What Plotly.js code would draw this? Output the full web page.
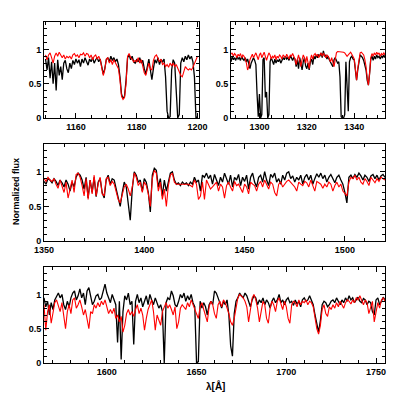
<!DOCTYPE html>
<html>
<head>
<meta charset="utf-8">
<script src="https://cdn.plot.ly/plotly-3.0.1.min.js"></script>
<style>
  html, body { margin: 0; padding: 0; background: #fff; }
  #plot { width: 407px; height: 407px; }
</style>
</head>
<body>
<div id="plot"></div>
<script>
"use strict";

// Wavelength grids: start, step (Angstrom)
var start1 = 1150, step1 = 0.5;
var start2 = 1288, step2 = 0.5;
var start3 = 1350, step3 = 1;
var start4 = 1565, step4 = 1;

// Panel 1 (1150-1200): observed (black) and model (red)
var obs1 = [
  0.86, 0.7, 0.88, 0.58, 0.82, 0.5, 0.8, 0.4, 0.85, 0.62,
  0.75, 0.56, 0.8, 0.84, 0.72, 0.66, 0.8, 0.72, 0.84, 0.78,
  0.86, 0.8, 0.85, 0.75, 0.86, 0.8, 0.88, 0.82, 0.77, 0.86,
  0.82, 0.88, 0.8, 0.85, 0.88, 0.82, 0.86, 0.75, 0.64, 0.72,
  0.85, 0.88, 0.82, 0.9, 0.84, 0.88, 0.82, 0.86, 0.78, 0.6,
  0.35, 0.28, 0.32, 0.55, 0.88, 0.92, 0.85, 0.9, 0.82, 0.8,
  0.85, 0.82, 0.88, 0.8, 0.84, 0.72, 0.64, 0.75, 0.86, 0.7,
  0.56, 0.72, 0.85, 0.8, 0.88, 0.78, 0.85, 0.82, 0.86, 0.6,
  0.1, 0, 0.02, 0.7, 0.85, 0.8, 0.3, 0, 0.05, 0.8,
  0.88, 0.82, 0.9, 0.85, 0.92, 0.86, 0.9, 0.82, 0.6, 0,
  0.02
];
var mod1 = [
  0.92, 0.85, 0.92, 0.95, 0.88, 0.8, 0.9, 0.95, 0.9, 0.96,
  0.92, 0.88, 0.92, 0.86, 0.9, 0.88, 0.9, 0.86, 0.92, 0.94,
  0.9, 0.92, 0.88, 0.93, 0.92, 0.95, 0.9, 0.94, 0.93, 0.88,
  0.92, 0.85, 0.9, 0.92, 0.86, 0.9, 0.85, 0.72, 0.62, 0.7,
  0.86, 0.88, 0.8, 0.85, 0.78, 0.85, 0.8, 0.76, 0.72, 0.55,
  0.32, 0.27, 0.3, 0.5, 0.9, 0.94, 0.88, 0.86, 0.82, 0.84,
  0.82, 0.88, 0.8, 0.85, 0.76, 0.66, 0.62, 0.72, 0.8, 0.72,
  0.7, 0.84, 0.9, 0.92, 0.88, 0.82, 0.86, 0.78, 0.8, 0.75,
  0.78, 0.74, 0.8, 0.76, 0.8, 0.75, 0.78, 0.72, 0.68, 0.62,
  0.6, 0.7, 0.75, 0.72, 0.7, 0.72, 0.7, 0.74, 0.8, 0.86,
  0.9
];

// Panel 2 (1288-1353)
var obs2 = [
  0.82, 0.9, 0.85, 0.88, 0.84, 0.9, 0.86, 0.88, 0.84, 0.9,
  0.86, 0.84, 0.88, 0.82, 0.86, 0.8, 0.72, 0.8, 0.85, 0.88,
  0.84, 0.78, 0.35, 0.02, 0.35, 0, 0.05, 0.85, 0.88, 0.3,
  0.38, 0, 0.05, 0.82, 0.88, 0.84, 0.78, 0.86, 0.8, 0.85,
  0.82, 0.86, 0.8, 0.84, 0.88, 0.85, 0.9, 0.86, 0.88, 0.84,
  0.9, 0.88, 0.84, 0.88, 0.86, 0.75, 0.85, 0.72, 0.88, 0.8,
  0.7, 0.82, 0.88, 0.76, 0.72, 0.8, 0.7, 0.82, 0.86, 0.78,
  0.9, 0.86, 0.92, 0.88, 0.92, 0.9, 0.95, 0.88, 0.98, 0.9,
  0.92, 0.86, 0.9, 0.85, 0.8, 0.78, 0.75, 0.85, 0.88, 0.85,
  0.8, 0.82, 0.6, 0.02, 0, 0, 0.05, 0.82, 0.3, 0.1,
  0.82, 0.88, 0.9, 0.86, 0.85, 0.7, 0.55, 0.7, 0.85, 0.92,
  0.9, 0.88, 0.84, 0.78, 0.7, 0.55, 0.48, 0.65, 0.86, 0.9,
  0.84, 0.9, 0.86, 0.92, 0.88, 0.9, 0.86, 0.9, 0.88, 0.92,
  0.88
];
var mod2 = [
  0.93, 0.95, 0.9, 0.94, 0.92, 0.88, 0.93, 0.9, 0.94, 0.88,
  0.92, 0.9, 0.86, 0.8, 0.7, 0.75, 0.85, 0.9, 0.93, 0.88,
  0.92, 0.95, 0.9, 0.85, 0.92, 0.95, 0.88, 0.93, 0.96, 0.9,
  0.84, 0.9, 0.95, 0.92, 0.86, 0.9, 0.88, 0.92, 0.85, 0.9,
  0.88, 0.92, 0.9, 0.86, 0.92, 0.9, 0.88, 0.93, 0.9, 0.86,
  0.92, 0.9, 0.94, 0.9, 0.86, 0.78, 0.88, 0.92, 0.84, 0.75,
  0.85, 0.92, 0.88, 0.8, 0.9, 0.82, 0.72, 0.85, 0.92, 0.86,
  0.92, 0.94, 0.9, 0.93, 0.88, 0.92, 0.95, 0.9, 0.94, 0.92,
  0.88, 0.92, 0.9, 0.86, 0.82, 0.88, 0.8, 0.75, 0.85, 0.95,
  0.97, 0.97, 0.97, 0.96, 0.97, 0.96, 0.95, 0.93, 0.9, 0.92,
  0.95, 0.96, 0.93, 0.9, 0.86, 0.72, 0.55, 0.72, 0.88, 0.95,
  0.96, 0.94, 0.92, 0.85, 0.75, 0.58, 0.48, 0.65, 0.88, 0.94,
  0.9, 0.95, 0.92, 0.96, 0.93, 0.95, 0.9, 0.94, 0.92, 0.95,
  0.92
];

// Panel 3 (1350-1520)
var obs3 = [
  0.86, 0.82, 0.9, 0.88, 0.84, 0.9, 0.86, 0.8, 0.88, 0.84,
  0.78, 0.88, 0.82, 0.72, 0.85, 0.78, 0.92, 0.98, 0.95, 0.88,
  0.75, 0.92, 0.62, 0.88, 0.7, 0.92, 0.64, 0.85, 0.9, 0.7,
  0.62, 0.88, 0.95, 0.82, 0.9, 0.88, 0.75, 0.6, 0.5, 0.7,
  0.85, 0.78, 0.55, 0.3, 0.75, 1.0, 0.95, 0.85, 0.88, 0.72,
  0.9, 0.85, 0.7, 0.42, 0.95, 1.05, 1.02, 0.78, 0.9, 0.65,
  0.88, 0.72, 0.85, 0.98, 1.0, 0.88, 0.82, 0.84, 0.8, 0.85,
  0.82, 0.84, 0.8, 0.85, 0.82, 0.92, 0.85, 0.88, 0.72, 0.95,
  0.92, 0.98, 0.9, 0.95, 0.82, 0.96, 0.88, 0.8, 0.92, 0.85,
  0.98, 0.9, 0.82, 0.95, 0.78, 0.92, 0.88, 0.96, 0.8, 0.92,
  0.86, 0.95, 0.75, 0.92, 0.98, 0.85, 0.78, 0.92, 0.95, 0.85,
  1.0, 0.88, 0.8, 0.96, 0.92, 0.98, 0.85, 0.9, 0.82, 0.95,
  0.88, 0.98, 1.0, 0.9, 0.94, 0.85, 0.92, 0.88, 0.95, 0.82,
  0.92, 0.96, 0.88, 0.95, 0.82, 0.9, 0.97, 0.92, 0.98, 0.9,
  0.95, 0.85, 0.92, 0.96, 0.9, 0.84, 0.92, 0.95, 0.88, 0.82,
  0.7, 0.55, 0.92, 0.95, 0.9, 0.96, 0.92, 0.98, 0.94, 0.88,
  0.95, 0.92, 0.86, 0.94, 0.96, 0.9, 0.95, 0.88, 0.94, 0.96,
  0.92
];
var mod3 = [
  0.9, 0.86, 0.92, 0.88, 0.86, 0.9, 0.82, 0.76, 0.88, 0.8,
  0.7, 0.85, 0.62, 0.75, 0.88, 0.7, 0.96, 0.98, 0.92, 0.8,
  0.65, 0.9, 0.6, 0.88, 0.68, 0.95, 0.65, 0.82, 0.92, 0.68,
  0.65, 0.9, 0.92, 0.8, 0.86, 0.82, 0.72, 0.6, 0.55, 0.65,
  0.78, 0.82, 0.75, 0.65, 0.78, 0.98, 0.92, 0.8, 0.85, 0.7,
  0.85, 0.8, 0.68, 0.5, 0.9, 1.02, 0.98, 0.72, 0.85, 0.6,
  0.75, 0.5, 0.8, 0.95, 0.98, 0.85, 0.82, 0.82, 0.82, 0.82,
  0.82, 0.82, 0.82, 0.8, 0.78, 0.88, 0.82, 0.6, 0.65, 0.85,
  0.6, 0.88, 0.82, 0.75, 0.78, 0.82, 0.85, 0.72, 0.82, 0.78,
  0.62, 0.8, 0.85, 0.78, 0.72, 0.86, 0.8, 0.82, 0.75, 0.7,
  0.82, 0.78, 0.68, 0.85, 0.82, 0.8, 0.72, 0.82, 0.86, 0.78,
  0.88, 0.82, 0.75, 0.85, 0.82, 0.7, 0.65, 0.82, 0.85, 0.78,
  0.82, 0.86, 0.88, 0.85, 0.82, 0.78, 0.72, 0.85, 0.82, 0.8,
  0.86, 0.84, 0.78, 0.88, 0.8, 0.72, 0.86, 0.84, 0.82, 0.76,
  0.82, 0.78, 0.85, 0.82, 0.72, 0.8, 0.85, 0.78, 0.82, 0.72,
  0.68, 0.65, 0.85, 0.92, 0.9, 0.95, 0.88, 0.92, 0.85, 0.82,
  0.9, 0.86, 0.8, 0.92, 0.88, 0.84, 0.9, 0.86, 0.92, 0.9,
  0.88
];

// Panel 4 (1565-1755)
var obs4 = [
  0.95, 0.82, 0.9, 0.7, 0.88, 0.78, 0.92, 0.98, 1.02, 0.95,
  1.0, 0.85, 0.78, 0.9, 0.82, 0.95, 1.02, 1.05, 0.92, 0.98,
  1.08, 0.95, 1.02, 0.85, 1.05, 1.1, 0.95, 0.85, 0.9, 0.98,
  1.0, 0.92, 0.95, 1.05, 1.15, 1.02, 0.95, 0.88, 1.0, 0.92,
  0.85, 0.3, 0.9, 0.05, 0.75, 0.98, 0.92, 1.02, 0.85, 0.9,
  0.27, 0.9, 1.0, 0.88, 0.95, 0.82, 0.92, 0.98, 0.85, 1.0,
  0.92, 0.85, 0.95, 0.88, 0.8, 0.85, 0.75, 0.0, 0.88, 0.95,
  0.92, 1.05, 0.98, 0.85, 0.82, 0.9, 1.0, 0.95, 1.02, 0.9,
  0.98, 0.92, 1.0, 0.88, 0.82, 0.0, 0.02, 0.9, 0.8, 0.88,
  0.82, 0.7, 0.85, 0.9, 0.85, 1.05, 1.02, 0.95, 0.88, 0.8,
  0.9, 0.85, 0.92, 0.7, 0.25, 0.1, 0.72, 0.9, 0.95, 1.02,
  0.98, 0.95, 1.02, 0.98, 0.9, 0.82, 0.92, 0.98, 0.95, 0.85,
  0.92, 0.88, 0.95, 0.85, 0.92, 0.88, 0.8, 0.9, 0.95, 0.88,
  0.92, 1.0, 0.88, 0.92, 0.85, 0.92, 0.95, 0.88, 0.9, 0.84,
  0.92, 0.86, 0.9, 0.82, 0.92, 0.95, 0.9, 0.92, 0.98, 0.9,
  0.85, 0.7, 0.55, 0.45, 0.62, 0.85, 0.9, 0.88, 0.82, 0.85,
  0.9, 0.92, 0.88, 0.95, 0.9, 0.85, 0.92, 0.88, 0.95, 0.9,
  0.98, 0.92, 0.95, 0.88, 0.92, 0.96, 0.9, 0.88, 0.94, 0.92,
  0.85, 0.9, 0.88, 0.75, 0.7, 0.92, 0.95, 0.85, 0.9, 0.96,
  0.92
];
var mod4 = [
  0.85, 0.48, 0.75, 0.85, 0.58, 0.72, 0.88, 0.92, 0.85, 0.75,
  0.88, 0.68, 0.5, 0.75, 0.85, 0.72, 0.92, 0.95, 0.8, 0.85,
  0.92, 0.82, 0.7, 0.78, 0.65, 0.5, 0.75, 0.72, 0.85, 0.8,
  0.88, 0.82, 0.9, 0.85, 0.92, 0.8, 0.72, 0.78, 0.72, 0.8,
  0.65, 0.7, 0.6, 0.68, 0.45, 0.55, 0.72, 0.78, 0.7, 0.75,
  0.68, 0.78, 0.85, 0.72, 0.8, 0.7, 0.48, 0.65, 0.78, 0.85,
  0.92, 0.75, 0.48, 0.7, 0.62, 0.55, 0.75, 0.82, 0.88, 0.8,
  0.85, 0.78, 0.7, 0.82, 0.5, 0.6, 0.8, 0.85, 0.82, 0.78,
  0.88, 0.82, 0.92, 0.85, 0.78, 0.72, 0.65, 0.82, 0.88, 0.78,
  0.7, 0.6, 0.82, 0.9, 0.85, 0.72, 0.65, 0.85, 0.9, 0.82,
  0.92, 0.88, 0.8, 0.72, 0.6, 0.55, 0.65, 0.8, 0.95, 1.0,
  0.98, 0.95, 0.9, 0.82, 0.6, 0.75, 0.95, 1.0, 0.92, 0.8,
  0.6, 0.75, 0.9, 0.85, 0.65, 0.58, 0.8, 0.9, 0.85, 0.75,
  0.9, 0.95, 0.85, 0.78, 0.9, 0.82, 0.65, 0.58, 0.85, 0.9,
  0.88, 0.82, 0.92, 0.85, 0.9, 0.88, 0.92, 0.85, 0.9, 0.88,
  0.82, 0.65, 0.5, 0.42, 0.55, 0.78, 0.85, 0.72, 0.68, 0.82,
  0.78, 0.85, 0.8, 0.88, 0.82, 0.9, 0.85, 0.8, 0.88, 0.92,
  0.9, 0.86, 0.92, 0.88, 0.95, 0.92, 0.98, 0.9, 0.85, 0.92,
  0.88, 0.72, 0.82, 0.9, 0.6, 0.75, 0.88, 0.8, 0.92, 0.95,
  0.9
];

var xRanges = [[1149.5, 1200.5], [1288, 1353], [1350, 1520], [1565, 1755]];
var xDticks = [20, 20, 50, 50];
var xMinor = [5, 5, 10, 10];

function grid(start, step, n) {
  var w = [];
  for (var i = 0; i < n; i++) w.push(start + i * step);
  return w;
}

var W = 407;
function px(a, b) { return [a / W, b / W]; }
function py(top, bottom) { return [1 - bottom / W, 1 - top / W]; }

var xDomains = [px(44, 199), px(231, 385), px(44, 385), px(44, 385)];
var yDomains = [py(22, 118), py(22, 118), py(144, 241), py(267, 363)];

var panels = [
  [start1, step1, obs1, mod1],
  [start2, step2, obs2, mod2],
  [start3, step3, obs3, mod3],
  [start4, step4, obs4, mod4]
];

var FONT = 'Liberation Sans, Arial, sans-serif';
var tickFont = {family: FONT, size: 9, color: '#000', weight: 'bold'};
var data = [];
var layout = {
  width: 407,
  height: 407,
  margin: {l: 0, r: 0, t: 0, b: 0},
  paper_bgcolor: '#fff',
  plot_bgcolor: '#fff',
  showlegend: false,
  annotations: [
    {text: 'Normalized flux', xref: 'paper', yref: 'paper', x: 16 / W, y: 1 - 192 / W,
     xanchor: 'center', yanchor: 'middle',
     showarrow: false, textangle: -90, font: {family: FONT, size: 9, color: '#000', weight: 'bold'}},
    {text: 'λ[Å]', xref: 'paper', yref: 'paper', x: 215 / W, y: 1 - 386 / W,
     xanchor: 'center', yanchor: 'middle',
     showarrow: false, font: {family: FONT, size: 10, color: '#000', weight: 'bold'}}
  ]
};

panels.forEach(function(p, i) {
  var n = i + 1;
  var xa = n === 1 ? 'x' : 'x' + n;
  var ya = n === 1 ? 'y' : 'y' + n;
  data.push({x: grid(p[0], p[1], p[2].length), y: p[2], xaxis: xa, yaxis: ya, mode: 'lines', type: 'scatter',
             line: {color: '#000', width: 1.3}, hoverinfo: 'skip'});
  data.push({x: grid(p[0], p[1], p[3].length), y: p[3], xaxis: xa, yaxis: ya, mode: 'lines', type: 'scatter',
             line: {color: '#ff0000', width: 1.1}, hoverinfo: 'skip'});
  layout['xaxis' + (n === 1 ? '' : n)] = {
    domain: xDomains[i], anchor: ya, range: xRanges[i],
    showgrid: false, zeroline: false, showline: true, linecolor: '#000', linewidth: 1,
    mirror: 'ticks', ticks: 'inside', ticklen: 5, tickcolor: '#000',
    dtick: xDticks[i], tick0: 0, tickfont: tickFont,
    minor: {dtick: xMinor[i], ticks: 'inside', ticklen: 3, tickcolor: '#000'}
  };
  layout['yaxis' + (n === 1 ? '' : n)] = {
    domain: yDomains[i], anchor: xa, range: [0, 1.4],
    showgrid: false, zeroline: false, showline: true, linecolor: '#000', linewidth: 1,
    mirror: 'ticks', ticks: 'inside', ticklen: 5, tickcolor: '#000',
    tickvals: [0, 0.5, 1], ticktext: ['0', '0.5', '1'], tickfont: tickFont,
    minor: {dtick: 0.1, ticks: 'inside', ticklen: 3, tickcolor: '#000'}
  };
});

Plotly.newPlot('plot', data, layout, {staticPlot: true});
</script>
</body>
</html>
